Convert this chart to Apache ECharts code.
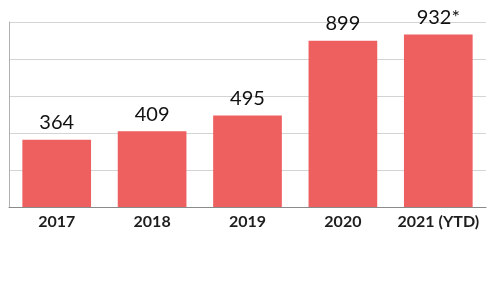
<!DOCTYPE html>
<html><head><meta charset="utf-8">
<script src="https://cdn.jsdelivr.net/npm/echarts@6/dist/echarts.min.js"></script>
<style>html,body{margin:0;padding:0;background:#fff}#c{width:500px;height:285px}</style>
</head><body><div id="c"></div>
<script>
var categories = ['2017', '2018', '2019', '2020', '2021 (YTD)'];
var values = [364, 409, 495, 899, 932];
var valueLabels = ['364', '409', '495', '899', '932*'];
var yTicks = [0, 200, 400, 600, 800, 1000];

var chart = echarts.init(document.getElementById('c'));
chart.setOption({
  animation: false,
  grid: { left: 9, right: 14, top: 22, bottom: 78, containLabel: false },
  xAxis: {
    type: 'category', data: categories,
    axisLine: { show: true, lineStyle: { color: '#8a8a8a', width: 1 } },
    axisTick: { show: false },
    axisLabel: { interval: 0, margin: 7, fontFamily: 'Lato', fontWeight: 'bold', fontSize: 16, color: '#1e1e1e' }
  },
  yAxis: {
    type: 'value', min: yTicks[0], max: yTicks[yTicks.length - 1], interval: 200,
    axisLine: { show: true, lineStyle: { color: '#b0b0b0', width: 1 } },
    axisTick: { show: false },
    axisLabel: { show: false },
    splitLine: { show: true, lineStyle: { color: '#d4d4d4', width: 1 } }
  },
  series: [{
    type: 'bar', data: values, barWidth: '72%',
    itemStyle: { color: '#ee5f60' },
    label: {
      show: true, position: 'top', distance: 7,
      fontFamily: 'Lato', fontSize: 20, color: '#111',
      formatter: function (p) { return valueLabels[p.dataIndex]; }
    }
  }]
});
</script></body></html>
